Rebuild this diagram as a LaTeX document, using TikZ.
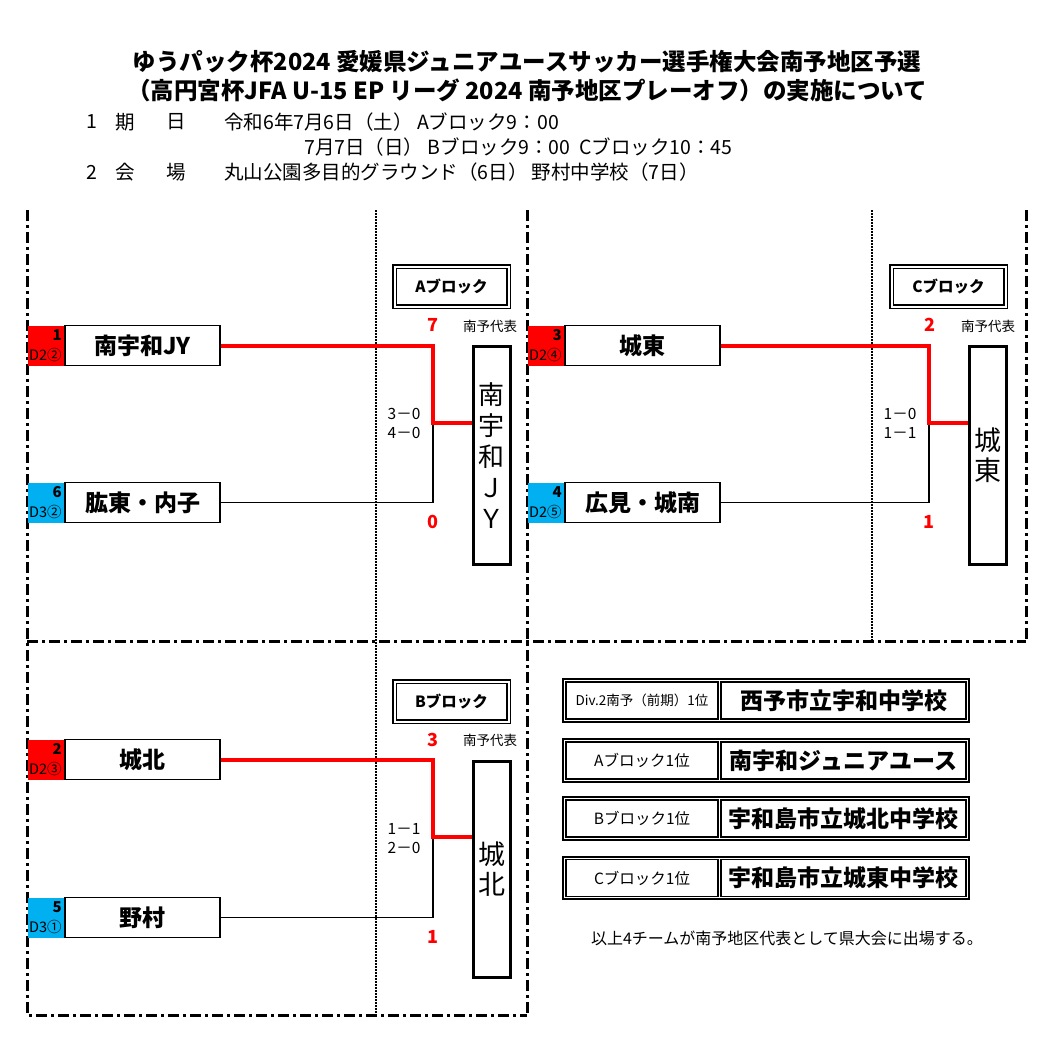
\documentclass[tikz,border=0pt]{standalone}
\usepackage{fontspec}
\setmainfont{Noto Sans CJK JP}
\usetikzlibrary{fit}
\definecolor{sred}{RGB}{255,0,0}
\definecolor{sblue}{RGB}{0,176,240}
\newcommand\fs[2][]{\fontsize{#2}{#2}\selectfont}
\begin{document}
\begin{tikzpicture}[x=1pt,y=-1pt,
 title/.style={inner sep=0, font=\bfseries\fs{23.5}},
 info/.style={inner sep=0, font=\fs{19.5}},
 team/.style={draw, line width=1.6pt, minimum width=155pt, minimum height=40pt, inner sep=0, font=\bfseries\fs{23}},
 seedr/.style={fill=sred, minimum width=37pt, minimum height=40pt, inner sep=0},
 seedb/.style={fill=sblue, minimum width=37pt, minimum height=40pt, inner sep=0},
 seednum/.style={font=\bfseries\fs{15}, inner sep=0, anchor=east},
 seeddiv/.style={font=\fs{14.5}, inner sep=0, anchor=west},
 winline/.style={draw=sred, line width=4pt},
 loseline/.style={draw=black, line width=1.6pt},
 winbox/.style={draw, line width=2.6pt, minimum width=37pt, inner sep=0, anchor=north west, align=center},
 blocklab/.style={draw, double, double distance=2pt, line width=1.4pt, minimum width=114pt, minimum height=40pt, inner sep=0, font=\bfseries\fs{15.5}},
 score/.style={text=sred, inner sep=0, font=\bfseries\fs{18}},
 res/.style={inner sep=0, align=center, font=\fontsize{15.5}{19}\selectfont},
 rep/.style={inner sep=0, font=\fs{13.5}},
 border/.style={line width=3pt, dash pattern=on 11pt off 4pt on 3pt off 4pt},
 dotline/.style={line width=1.3pt, dash pattern=on 1.5pt off 1.5pt},
 lcell/.style={draw, line width=1.6pt, minimum width=152pt, minimum height=37pt, inner sep=0},
 rcell/.style={draw, line width=1.6pt, minimum width=245pt, minimum height=37pt, inner sep=0, font=\bfseries\fs{23}},
 outerc/.style={draw, line width=1.8pt, inner sep=2pt},
 note/.style={inner sep=0, font=\fs{16}}
]
\useasboundingbox[fill=white] (0,0) rectangle (1042,1050);

% ---------- heading ----------
\node[title] (H1) at (527,62) {ゆうパック杯2024 愛媛県ジュニアユースサッカー選手権大会南予地区予選};
\node[title] (H2) at (527,90) {（高円宮杯JFA U-15 EP リーグ 2024 南予地区プレーオフ）の実施について};
\node[info] (I1a) at (92,122) {1};
\node[info] (I1b) at (125,122) {期};
\node[info] (I1c) at (176,122) {日};
\node[info, anchor=west] (I1d) at (224,122) {令和6年7月6日（土） Aブロック9：00};
\node[info, anchor=west] (I2) at (304,147) {7月7日（日） Bブロック9：00\ \ Cブロック10：45};
\node[info] (I3a) at (92,172) {2};
\node[info] (I3b) at (125,172) {会};
\node[info] (I3c) at (176,172) {場};
\node[info, anchor=west] (I3d) at (224,172) {丸山公園多目的グラウンド（6日） 野村中学校（7日）};

% ---------- frame ----------
\draw[dotline] (376,210) -- (376,1015);
\draw[dotline] (872,210) -- (872,641);
\draw[border] (27,210) -- (27,1015) -- (527,1015);
\draw[border] (527,210) -- (527,1015);
\draw[border] (1026,210) -- (1026,641);
\draw[border] (27,641) -- (1026,641);

% ---------- A block ----------
\node[blocklab] (AL) at (451.5,286.5) {Aブロック};
\node[seedr] (A1s) at (46.5,345.5) {};
\node[team] (A1) at (142.5,345.5) {南宇和JY};
\node[seednum] (A1n) at (62,335) {1};
\node[seeddiv] (A1d) at (29,355) {D2②};
\node[seedb] (A2s) at (46.5,502.5) {};
\node[team] (A2) at (142.5,502.5) {肱東・内子};
\node[seednum] (A2n) at (62,492) {6};
\node[seeddiv] (A2d) at (29,512) {D3②};
\node[winbox, minimum height=218pt, font=\fontsize{26}{31}\selectfont] (AW) at (472,345) {南\\宇\\和\\Ｊ\\Ｙ};
\coordinate (Aj) at (433,423);
\draw[loseline] (A2.east) -| (Aj);
\draw[winline] (A1.east) -| (Aj) -- (Aj -| AW.west);
\node[score] (As1) at (433,325) {7};
\node[score] (As2) at (433,522) {0};
\node[rep] (Ar) at (490,326) {南予代表};
\node[res] (Ares) at (404,423.5) {3－0\\4－0};

% ---------- C block ----------
\node[blocklab] (CL) at (948.5,286.5) {Cブロック};
\node[seedr] (C1s) at (546.5,345.5) {};
\node[team] (C1) at (642.5,345.5) {城東};
\node[seednum] (C1n) at (562,335) {3};
\node[seeddiv] (C1d) at (529,355) {D2④};
\node[seedb] (C2s) at (546.5,502.5) {};
\node[team] (C2) at (642.5,502.5) {広見・城南};
\node[seednum] (C2n) at (562,492) {4};
\node[seeddiv] (C2d) at (529,512) {D2⑤};
\node[winbox, minimum height=218pt, font=\fontsize{27}{30}\selectfont] (CW) at (968,345) {城\\東};
\coordinate (Cj) at (929,423);
\draw[loseline] (C2.east) -| (Cj);
\draw[winline] (C1.east) -| (Cj) -- (Cj -| CW.west);
\node[score] (Cs1) at (930,325) {2};
\node[score] (Cs2) at (929,522) {1};
\node[rep] (Cr) at (988,326) {南予代表};
\node[res] (Cres) at (900,423.5) {1－0\\1－1};

% ---------- B block ----------
\node[blocklab] (BL) at (451.5,701.5) {Bブロック};
\node[seedr] (B1s) at (46.5,759.5) {};
\node[team] (B1) at (142.5,759.5) {城北};
\node[seednum] (B1n) at (62,749) {2};
\node[seeddiv] (B1d) at (29,769) {D2③};
\node[seedb] (B2s) at (46.5,917.5) {};
\node[team] (B2) at (142.5,917.5) {野村};
\node[seednum] (B2n) at (62,907) {5};
\node[seeddiv] (B2d) at (29,927) {D3①};
\node[winbox, minimum height=216pt, font=\fontsize{27}{30}\selectfont] (BW) at (472,760) {城\\北};
\coordinate (Bj) at (433,837);
\draw[loseline] (B2.east) -| (Bj);
\draw[winline] (B1.east) -| (Bj) -- (Bj -| BW.west);
\node[score] (Bs1) at (433,740) {3};
\node[score] (Bs2) at (433,937) {1};
\node[rep] (Br) at (490,740) {南予代表};
\node[res] (Bres) at (404,839) {1－1\\2－0};

% ---------- representatives table ----------
\node[lcell, font=\fs{13.5}] (L1) at (642,700.5) {Div.2南予（前期）1位};
\node[rcell] (R1) at (843.5,700.5) {西予市立宇和中学校};
\node[outerc, fit=(L1)(R1)] (O1) {};
\node[lcell, font=\fs{15.5}] (L2) at (642,760.5) {Aブロック1位};
\node[rcell] (R2) at (843.5,760.5) {南宇和ジュニアユース};
\node[outerc, fit=(L2)(R2)] (O2) {};
\node[lcell, font=\fs{15.5}] (L3) at (642,818.5) {Bブロック1位};
\node[rcell] (R3) at (843.5,818.5) {宇和島市立城北中学校};
\node[outerc, fit=(L3)(R3)] (O3) {};
\node[lcell, font=\fs{15.5}] (L4) at (642,878) {Cブロック1位};
\node[rcell] (R4) at (843.5,878) {宇和島市立城東中学校};
\node[outerc, fit=(L4)(R4)] (O4) {};
\node[note] (N) at (787,938) {以上4チームが南予地区代表として県大会に出場する。};
\end{tikzpicture}
\end{document}
